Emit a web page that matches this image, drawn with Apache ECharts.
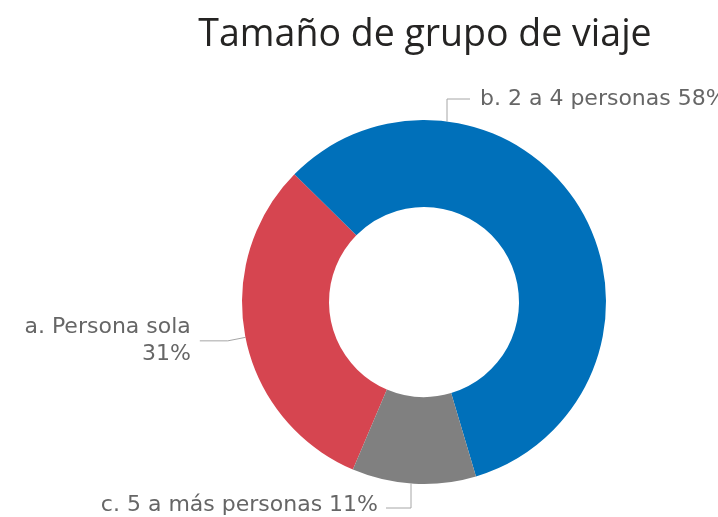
<!DOCTYPE html>
<html><head><meta charset="utf-8">
<script src="https://cdn.jsdelivr.net/npm/echarts@6/dist/echarts.min.js"></script>
<style>html,body{margin:0;padding:0;background:#fff}#c{width:718px;height:517px}</style>
</head><body><div id="c"></div>
<script>
const titleText = 'Tamaño de grupo de viaje';
const categories = ['a. Persona sola', 'b. 2 a 4 personas', 'c. 5 a más personas'];
const values = [31, 58, 11];
const colors = ['#D64550', '#0070BA', '#808080'];

const CX = 424, CY = 302, R_IN = 95, R_OUT = 182;

function ringPoint(x, below) {
  const dx = x - CX;
  const dy = Math.sqrt(Math.max(0, R_OUT * R_OUT - dx * dx));
  return [x, below ? CY + dy : CY - dy];
}

const chart = echarts.init(document.getElementById('c'), null, {renderer: 'canvas'});
chart.setOption({
  animation: false,
  backgroundColor: '#ffffff',
  title: {
    text: titleText,
    left: CX - 4,
    top: 11,
    textAlign: 'center',
    textStyle: {fontFamily: 'Open Sans', fontSize: 37.5, fontWeight: 'normal', color: '#252423'}
  },
  series: [{
    type: 'pie',
    center: [CX, CY],
    radius: [R_IN, R_OUT],
    startAngle: 247,
    clockwise: true,
    avoidLabelOverlap: false,
    emphasis: {disabled: true},
    data: categories.map((n, i) => ({name: n, value: values[i], itemStyle: {color: colors[i]}})),
    label: {
      show: true,
      position: 'outside',
      formatter: p => p.dataIndex === 0
        ? p.name + '\n' + Math.round(p.percent) + '%'
        : p.name + ' ' + Math.round(p.percent) + '%',
      fontFamily: 'DejaVu Sans',
      fontSize: 22,
      lineHeight: 27,
      color: '#666666',
      distanceToLabelLine: 9
    },
    labelLine: {show: true, length: 18, length2: 28, lineStyle: {color: '#A6A6A6', width: 1}},
    labelLayout: function (params) {
      if (params.dataIndex === 1) {
        const ax = CX + 23, ly = CY - R_OUT - 21;
        return {
          x: ax + 33, y: ly, align: 'left', verticalAlign: 'middle',
          labelLinePoints: [ringPoint(ax, false), [ax, ly], [ax + 23, ly]]
        };
      }
      if (params.dataIndex === 2) {
        const ax = CX - 13, ly = CY + R_OUT + 24;
        return {
          x: ax - 33, y: ly - 3, align: 'right', verticalAlign: 'middle',
          labelLinePoints: [ringPoint(ax, true), [ax, ly], [ax - 25, ly]]
        };
      }
      return {};
    }
  }]
});
</script></body></html>
